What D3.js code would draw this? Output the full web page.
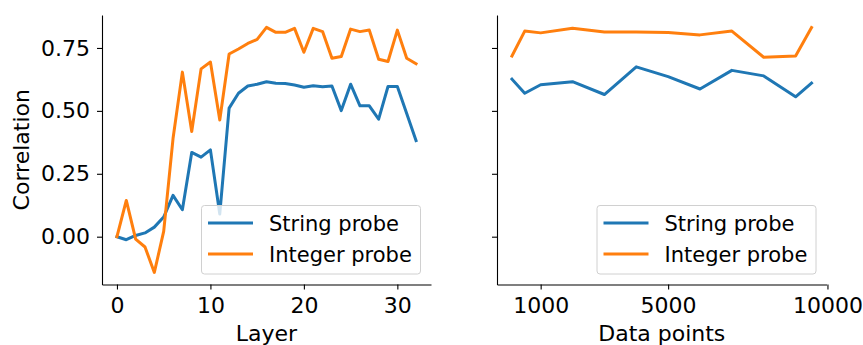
<!DOCTYPE html>
<html>
<head>
<meta charset="utf-8">
<script src="https://cdn.jsdelivr.net/npm/d3@7"></script>
<style>
  body { margin: 0; background: #fff; }
  svg { font-family: "DejaVu Sans", sans-serif; }
</style>
</head>
<body>
<div id="chart"></div>
<script>
// values
var layers = [0,1,2,3,4,5,6,7,8,9,10,11,12,13,14,15,16,17,18,19,20,21,22,23,24,25,26,27,28,29,30,31,32];
var stringByLayer = [0.0, -0.012, 0.005, 0.015, 0.038, 0.078, 0.164, 0.107, 0.335, 0.316, 0.345, 0.09,
  0.511, 0.570, 0.599, 0.606, 0.616, 0.610, 0.609, 0.603, 0.594, 0.600, 0.596, 0.599, 0.501, 0.606,
  0.520, 0.520, 0.467, 0.597, 0.597, 0.49, 0.382];
var integerByLayer = [0.0, 0.144, -0.01, -0.041, -0.142, 0.021, 0.39, 0.654, 0.418, 0.667, 0.694, 0.464,
  0.726, 0.746, 0.768, 0.784, 0.832, 0.812, 0.812, 0.828, 0.733, 0.828, 0.815, 0.709, 0.716, 0.825,
  0.815, 0.821, 0.705, 0.696, 0.821, 0.709, 0.687];

var dataPoints = [100, 500, 1000, 2000, 3000, 4000, 5000, 6000, 7000, 8000, 9000, 9500];
var stringByData = [0.626, 0.570, 0.604, 0.616, 0.565, 0.675, 0.636, 0.587, 0.661, 0.639, 0.556, 0.610];
var integerByData = [0.718, 0.817, 0.810, 0.828, 0.813, 0.813, 0.811, 0.802, 0.817, 0.713, 0.718, 0.831];

var yTicks = [0, 0.25, 0.5, 0.75];
var layerTicks = [0, 10, 20, 30];
var dataTicks = [1000, 5000, 10000];
var seriesNames = ["String probe", "Integer probe"];
var colors = ["#1f77b4", "#ff7f0e"];

var W = 863, H = 345;
var plotTop = 15, plotBottom = 284.5;

var svg = d3.select("#chart").append("svg")
	.attr("width", W)
	.attr("height", H);

var y = d3.scaleLinear().domain([-0.19, 0.881]).range([plotBottom, plotTop]);

function panel(xs, s1, s2, xDomain, xRange, ticks, xLabel, showYLabels) {
	var x = d3.scaleLinear().domain(xDomain).range(xRange);
	var g = svg.append("g");

	var line = d3.line()
		.x(function(d){ return x(d[0]); })
		.y(function(d){ return y(d[1]); });

	[s1, s2].forEach(function(s, i){
		g.append("path")
			.datum(xs.map(function(v, j){ return [v, s[j]]; }))
			.attr("fill", "none")
			.attr("stroke", colors[i])
			.attr("stroke-width", 3)
			.attr("stroke-linejoin", "round")
			.attr("stroke-linecap", "square")
			.attr("d", line);
	});

	var xAxis = d3.axisBottom(x).tickValues(ticks).tickSize(5).tickSizeOuter(0).tickPadding(8)
		.tickFormat(d3.format("d"));
	var yAxis = d3.axisLeft(y).tickValues(yTicks).tickSize(5).tickSizeOuter(0).tickPadding(7)
		.tickFormat(showYLabels ? d3.format(".2f") : function(){ return ""; });

	var gx = g.append("g")
		.attr("transform", "translate(0," + plotBottom + ")")
		.call(xAxis);
	var gy = g.append("g")
		.attr("transform", "translate(" + xRange[0] + ",0)")
		.call(yAxis);

	[gx, gy].forEach(function(a){
		a.selectAll("path, line").attr("stroke", "#000").attr("stroke-width", 1.1);
		a.selectAll("text").attr("fill", "#000").style("font-size", "22px")
			.style("font-family", "DejaVu Sans");
	});

	g.append("text")
		.attr("x", (xRange[0] + xRange[1]) / 2)
		.attr("y", 341)
		.attr("text-anchor", "middle")
		.style("font-size", "22px")
		.text(xLabel);

	// legend, lower right
	var lx = xRange[1] - 229.5, ly = 205.5;
	var leg = g.append("g").attr("transform", "translate(" + lx + "," + ly + ")");
	leg.append("rect")
		.attr("width", 219).attr("height", 68.5)
		.attr("rx", 3)
		.attr("fill", "#fff").attr("fill-opacity", 0.8)
		.attr("stroke", "#d0d0d0").attr("stroke-width", 1);
	seriesNames.forEach(function(name, i){
		var cy = 17.5 + i * 31;
		leg.append("line")
			.attr("x1", 6.5).attr("x2", 51.5)
			.attr("y1", cy).attr("y2", cy)
			.attr("stroke", colors[i]).attr("stroke-width", 3);
		leg.append("text")
			.attr("x", 67.5).attr("y", cy + 7.6)
			.style("font-size", "21px")
			.text(name);
	});
}

panel(layers, stringByLayer, integerByLayer, [-1.6, 33.6], [102, 431], layerTicks, "Layer", true);
panel(dataPoints, stringByData, integerByData, [-370, 9970], [497, 826.5], dataTicks, "Data points", false);

svg.append("text")
	.attr("transform", "translate(29," + (plotTop + plotBottom) / 2 + ")rotate(-90)")
	.attr("text-anchor", "middle")
	.style("font-size", "22px")
	.text("Correlation");
</script>
</body>
</html>
